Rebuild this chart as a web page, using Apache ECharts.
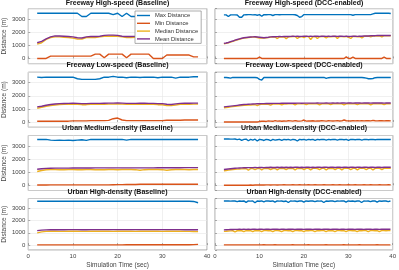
<!DOCTYPE html>
<html><head><meta charset="utf-8">
<script src="https://cdn.jsdelivr.net/npm/echarts@6/dist/echarts.min.js"></script>
<style>html,body{margin:0;padding:0;background:#fff}#c{width:399px;height:270px}</style>
</head><body><div id="c"></div>
<script>
// ---------- data ----------
const seriesNames = ['Max Distance','Min Distance','Median Distance','Mean Distance'];
const panelTitles = [
 'Freeway High-speed (Baseline)','Freeway High-speed (DCC-enabled)',
 'Freeway Low-speed (Baseline)','Freeway Low-speed (DCC-enabled)',
 'Urban Medium-density (Baseline)','Urban Medium-density (DCC-enabled)',
 'Urban High-density (Baseline)','Urban High-density (DCC-enabled)'];
const xTicks = [0,10,20,30,40];
const yTicks = [0,1000,2000,3000];
// baseline time: 2..38 s, 1 s step
const tBase = [2,3,4,5,6,7,8,9,10,11,12,13,14,15,16,17,18,19,20,21,22,23,24,25,26,27,28,29,30,31,32,33,34,35,36,37,38];
// DCC time: 2..39.5 s, 0.5 s step
const tDcc = [2,2.5,3,3.5,4,4.5,5,5.5,6,6.5,7,7.5,8,8.5,9,9.5,10,10.5,11,11.5,12,12.5,13,13.5,14,14.5,15,15.5,16,16.5,17,17.5,18,18.5,19,19.5,20,20.5,21,21.5,22,22.5,23,23.5,24,24.5,25,25.5,26,26.5,27,27.5,28,28.5,29,29.5,30,30.5,31,31.5,32,32.5,33,33.5,34,34.5,35,35.5,36,36.5,37,37.5,38,38.5,39,39.5];

// Freeway High-speed baseline
const fhsB_max = [3450,3450,3450,3450,3450,3450,3450,3450,3450,3450, 3200,3200,3450,3450,3450,3450,3450,3350,3450,3200, 3450,3200,3200,3450,3450,3450,3450,3450,3450,3300, 3450,3450,3450,3450,3450,3450,3450];
const fhsB_min = [0,0,0,180,180,180,180,180,180,180, 180,180,180,330,330,60,330,330,330,330, 60,330,330,330,330,330,0,0,0,260, 260,260,260,260,260,120,120];
const fhsB_med = [1100,1200,1450,1600,1650,1650,1620,1600,1550,1480, 1480,1600,1620,1600,1650,1700,1700,1720,1700,1650, 1600,1600,1620,1650,1650,1600,1620,1650,1650,1600, 1620,1650,1650,1650,1600,1620,1650];
const fhsB_mean = [1200,1300,1500,1650,1720,1720,1700,1680,1650,1580, 1560,1650,1680,1680,1700,1760,1780,1780,1760,1700, 1680,1680,1690,1700,1700,1680,1690,1700,1700,1680, 1690,1700,1700,1700,1680,1690,1700];
// Freeway Low-speed baseline
const flsB_max = [3420,3400,3420,3420,3420,3420,3420,3420,3420,3300, 3250,3250,3250,3250,3300,3420,3420,3480,3420,3420, 3380,3420,3420,3400,3420,3420,3420,3380,3420,3420, 3420,3350,3420,3420,3420,3450,3450];
const flsB_min = [50,50,50,50,50,50,60,60,80,80, 80,80,100,100,100,100,120,250,300,150, 100,100,100,100,100,100,100,100,100,130, 130,130,130,150,150,150,150];
const flsB_med = [1050,1120,1200,1260,1300,1330,1340,1350,1350,1340, 1320,1320,1340,1340,1340,1350,1360,1360,1370,1360, 1340,1340,1340,1350,1350,1340,1340,1320,1310,1260, 1250,1300,1340,1350,1350,1360,1360];
const flsB_mean = [1150,1200,1280,1330,1370,1400,1410,1420,1430,1420, 1400,1400,1420,1420,1420,1430,1440,1440,1450,1440, 1420,1420,1420,1430,1430,1420,1420,1400,1400,1350, 1330,1380,1420,1430,1430,1440,1440];
// Urban Medium-density baseline
const umdB_max = [3500,3500,3500,3450,3430,3450,3430,3450,3420,3450, 3480,3430,3500,3500,3500,3500,3500,3500,3500,3500, 3450,3500,3500,3500,3500,3500,3500,3500,3500,3500, 3500,3500,3500,3500,3500,3500,3500];
const umdB_min = [20,20,20,30,30,30,30,30,30,30, 30,30,30,30,30,30,30,40,50,50, 60,60,60,80,80,80,80,80,80,80, 80,80,80,80,80,80,80];
const umdB_med = [1050,1130,1180,1200,1200,1190,1180,1200,1200,1190, 1180,1200,1200,1190,1180,1180,1200,1200,1190,1200, 1200,1200,1190,1150,1190,1200,1200,1200,1190,1150, 1180,1200,1200,1200,1190,1200,1200];
const umdB_mean = [1220,1260,1290,1300,1310,1310,1310,1310,1320,1320, 1320,1320,1320,1330,1330,1330,1330,1330,1330,1330, 1330,1330,1330,1330,1330,1330,1330,1340,1340,1340, 1340,1340,1340,1350,1350,1350,1350];
// Urban High-density baseline
const uhdB_max = [3580,3580,3580,3570,3580,3580,3580,3570,3580,3580, 3580,3580,3570,3580,3580,3580,3580,3580,3570,3580, 3580,3580,3580,3580,3570,3580,3580,3580,3580,3580, 3580,3570,3580,3580,3580,3560,3450];
const uhdB_min = [20,20,20,20,20,20,20,20,20,20, 20,20,20,20,20,20,20,20,20,20, 30,30,30,30,30,30,30,30,30,30, 30,30,30,30,30,40,60];
const uhdB_med = [1000,1080,1120,1130,1130,1120,1120,1130,1130,1130, 1120,1120,1130,1130,1130,1130,1130,1120,1130,1130, 1130,1130,1120,1130,1130,1130,1130,1130,1120,1130, 1130,1130,1130,1120,1120,1110,1100];
const uhdB_mean = [1180,1220,1240,1250,1250,1250,1250,1260,1260,1260, 1250,1250,1260,1260,1260,1260,1260,1260,1260,1260, 1260,1260,1260,1260,1260,1260,1260,1260,1260,1260, 1260,1260,1260,1250,1250,1250,1250];

// Freeway High-speed DCC
const fhsD_max = [3330,3330,3200,3330,3330,3330,3320,3150,3150,3330, 3340,3350,3350,3330,3350,3300,3350,3220,3350,3340, 3350,3350,3280,3350,3350,3340,3350,3350,3350,3350, 3350,3350,3340,3280,3150,3200,3350,3350,3350,3350, 3350,3350,3350,3350,3350,3350,3350,3350,3350,3350, 3350,3350,3350,3350,3350,3350,3350,3350,3300,3350, 3350,3350,3350,3350,3350,3350,3350,3400,3450,3450, 3450,3450,3450,3450,3450,3430];
const fhsD_min = [0,0,0,0,0,0,0,0,0,0, 0,0,0,0,0,0,100,0,0,0, 0,0,0,0,0,0,0,0,0,0, 0,0,0,0,0,0,0,0,0,0, 0,0,0,0,0,0,0,0,0,0, 0,0,0,0,0,120,0,0,100,0, 0,0,0,0,0,0,0,0,0,0, 0,0,100,0,0,0];
const fhsD_med = [1120,1150,1200,1250,1300,1370,1420,1470,1510,1550, 1570,1600,1620,1630,1640,1600,1550,1560,1560,1580, 1600,1630,1640,1640,1520,1650,1640,1660,1500,1650, 1660,1680,1670,1520,1650,1670,1600,1680,1670,1450, 1660,1680,1520,1660,1680,1670,1560,1680,1650,1680, 1690,1520,1680,1670,1650,1680,1620,1530,1680,1680, 1660,1680,1560,1690,1700,1700,1650,1710,1720,1720, 1730,1640,1740,1730,1740,1730];
const fhsD_mean = [1150,1180,1220,1280,1330,1400,1450,1500,1540,1580, 1600,1620,1640,1650,1660,1640,1620,1600,1580,1600, 1620,1650,1660,1660,1670,1680,1670,1680,1690,1680, 1690,1700,1690,1700,1680,1690,1700,1700,1690,1700, 1690,1700,1700,1690,1700,1700,1690,1700,1690,1700, 1700,1690,1700,1700,1690,1700,1680,1690,1700,1700, 1690,1700,1700,1710,1720,1720,1730,1740,1740,1750, 1750,1750,1760,1750,1760,1750];
// Freeway Low-speed DCC
const flsD_max = [3400,3400,3380,3350,3400,3400,3400,3400,3400,3400, 3400,3400,3400,3400,3400,3380,3250,3200,3400,3400, 3400,3400,3400,3400,3400,3400,3400,3400,3400,3400, 3400,3400,3400,3400,3400,3400,3400,3400,3400,3400, 3400,3400,3400,3400,3400,3400,3330,3380,3400,3400, 3400,3400,3400,3400,3400,3400,3400,3400,3400,3400, 3400,3400,3400,3380,3350,3300,3300,3320,3380,3400, 3400,3400,3400,3400,3400,3400];
const flsD_min = [0,0,0,0,0,0,0,0,0,0, 0,0,0,0,0,0,30,50,60,40, 80,60,50,100,60,80,50,70,60,90, 80,60,100,70,60,80,150,60,80,70, 90,60,80,70,100,80,60,90,80,70, 80,100,70,80,150,90,80,70,100,80, 90,80,100,80,90,100,80,120,90,80, 100,90,80,100,90,80];
const flsD_med = [1080,1100,1120,1150,1170,1190,1210,1230,1250,1270, 1280,1290,1300,1310,1320,1250,1330,1340,1340,1350, 1350,1280,1360,1360,1370,1370,1300,1370,1370,1380, 1380,1380,1310,1380,1380,1380,1390,1320,1380,1390, 1390,1380,1390,1310,1390,1390,1380,1390,1320,1390, 1390,1390,1380,1390,1300,1390,1390,1380,1390,1390, 1320,1390,1390,1380,1390,1390,1310,1390,1390,1380, 1390,1390,1320,1390,1390,1380];
const flsD_mean = [1150,1170,1190,1210,1230,1250,1270,1290,1310,1330, 1340,1350,1360,1370,1380,1390,1390,1400,1400,1410, 1410,1410,1420,1420,1420,1420,1430,1430,1430,1430, 1430,1440,1430,1440,1440,1430,1440,1440,1440,1440, 1440,1440,1450,1440,1440,1440,1450,1440,1440,1450, 1440,1450,1440,1450,1450,1440,1450,1450,1440,1450, 1450,1450,1440,1450,1450,1450,1440,1450,1450,1450, 1450,1450,1440,1450,1450,1450];
// Urban Medium-density DCC
const umdD_max = [3530,3530,3530,3520,3520,3530,3480,3520,3430,3500, 3520,3400,3500,3450,3520,3380,3500,3480,3420,3500, 3480,3400,3500,3450,3480,3500,3420,3500,3480,3500, 3450,3500,3480,3380,3500,3480,3500,3450,3500,3480, 3500,3430,3500,3480,3500,3500,3450,3500,3480,3500, 3500,3450,3500,3500,3480,3500,3430,3500,3500,3480, 3500,3500,3450,3500,3500,3480,3500,3500,3480,3500, 3500,3500,3500,3490,3500,3500];
const umdD_min = [0,0,0,0,0,0,0,0,0,0, 0,0,20,0,20,30,20,30,20,30, 30,20,30,30,20,30,30,40,30,30, 30,40,30,30,40,30,30,30,40,30, 30,40,30,30,30,40,30,30,30,40, 30,30,40,30,30,30,40,30,30,40, 30,30,30,40,30,30,40,30,30,30, 40,30,30,30,40,30];
const umdD_med = [1100,1130,1160,1180,1200,1220,1230,1240,1250,1260, 1260,1150,1270,1270,1200,1270,1280,1180,1280,1270, 1280,1200,1280,1280,1170,1280,1290,1280,1200,1290, 1280,1290,1180,1290,1280,1290,1200,1290,1290,1180, 1290,1290,1280,1200,1290,1290,1180,1290,1280,1290, 1200,1290,1290,1180,1290,1290,1290,1200,1290,1290, 1180,1290,1290,1290,1200,1290,1290,1180,1290,1290, 1290,1200,1290,1290,1290,1290];
const umdD_mean = [1200,1220,1240,1260,1280,1300,1310,1320,1330,1340, 1340,1350,1350,1350,1360,1350,1360,1360,1350,1360, 1360,1370,1360,1360,1370,1360,1370,1360,1370,1360, 1370,1360,1370,1370,1360,1370,1360,1370,1370,1360, 1370,1360,1370,1370,1360,1370,1370,1360,1370,1370, 1360,1370,1370,1360,1370,1370,1360,1370,1370,1360, 1370,1370,1360,1370,1370,1360,1370,1370,1360,1370, 1370,1360,1370,1370,1370,1370];
// Urban High-density DCC
const uhdD_max = [3600,3600,3600,3590,3600,3600,3550,3600,3580,3600, 3480,3600,3590,3600,3450,3600,3580,3600,3520,3600, 3600,3580,3600,3500,3600,3590,3600,3560,3600,3470, 3600,3590,3600,3560,3600,3600,3500,3600,3580,3600, 3600,3550,3600,3590,3600,3470,3600,3580,3600,3600, 3550,3600,3590,3600,3600,3500,3600,3580,3600,3560, 3600,3600,3470,3600,3590,3600,3550,3600,3600,3500, 3600,3580,3600,3600,3550,3600];
const uhdD_min = [20,20,20,20,20,20,20,20,20,20, 20,20,20,20,20,20,20,20,30,20, 20,20,20,30,20,20,20,20,20,20, 20,30,20,20,20,20,20,20,30,20, 20,20,20,20,20,20,30,20,20,20, 20,20,20,20,30,20,20,20,20,20, 20,30,20,20,20,20,20,20,20,30, 20,20,20,20,20,20];
const uhdD_med = [1120,1130,1150,1160,1170,1080,1170,1180,1170,1100, 1180,1170,1180,1090,1180,1170,1180,1100,1180,1180, 1170,1180,1090,1180,1180,1170,1100,1180,1180,1170, 1180,1090,1180,1180,1170,1180,1100,1180,1170,1180, 1180,1090,1180,1170,1180,1180,1100,1180,1170,1180, 1090,1180,1180,1170,1180,1100,1180,1180,1170,1180, 1090,1180,1170,1180,1180,1100,1180,1180,1170,1180, 1090,1180,1180,1170,1180,1180];
const uhdD_mean = [1240,1250,1260,1270,1270,1280,1280,1290,1280,1290, 1280,1300,1280,1290,1290,1280,1300,1290,1280,1290, 1300,1280,1290,1290,1300,1280,1290,1290,1280,1300, 1290,1290,1280,1300,1290,1290,1280,1290,1300,1290, 1280,1290,1300,1290,1280,1290,1290,1300,1280,1290, 1290,1300,1280,1290,1290,1280,1300,1290,1290,1280, 1290,1300,1290,1280,1290,1290,1300,1280,1290,1290, 1280,1290,1300,1290,1290,1290];

// ---------- layout ----------
const colors = ['#0072BD','#D95319','#EDB120','#7E2F8E'];
const panels = [
 {t:tBase, d:[fhsB_max,fhsB_min,fhsB_med,fhsB_mean]},
 {t:tDcc,  d:[fhsD_max,fhsD_min,fhsD_med,fhsD_mean]},
 {t:tBase, d:[flsB_max,flsB_min,flsB_med,flsB_mean]},
 {t:tDcc,  d:[flsD_max,flsD_min,flsD_med,flsD_mean]},
 {t:tBase, d:[umdB_max,umdB_min,umdB_med,umdB_mean]},
 {t:tDcc,  d:[umdD_max,umdD_min,umdD_med,umdD_mean]},
 {t:tBase, d:[uhdB_max,uhdB_min,uhdB_med,uhdB_mean]},
 {t:tDcc,  d:[uhdD_max,uhdD_min,uhdD_med,uhdD_mean]}
];
const colLeft = [28, 215], colW = [179, 178];
const rowTop = [8.7, 72.2, 135.5, 198.5], rowH = 55;
const titleY = [0, 62, 124.5, 188.5];
const FONT = 'Liberation Sans';

const grids=[], xAxes=[], yAxes=[], series=[], titles=[];
panels.forEach((p,i)=>{
  const r = Math.floor(i/2), c = i%2;
  grids.push({left:colLeft[c], top:rowTop[r], width:colW[c], height:rowH, show:true,
    borderColor:'#8a8a8a', borderWidth:0.8, backgroundColor:'#fff'});
  titles.push({text:panelTitles[i], left:colLeft[c]+colW[c]/2, top:titleY[r], textAlign:'center', padding:0,
    textStyle:{fontFamily:FONT, fontSize:7, fontWeight:'bold', color:'#111'}});
  const bottom = r===3;
  xAxes.push({gridIndex:i, type:'value', min:0, max:40, interval:10,
    axisLine:{show:false}, axisTick:{show:true, inside:true, length:2, lineStyle:{color:'#777', width:0.6}},
    axisLabel:{show:bottom, fontFamily:FONT, fontSize:6, color:'#444', margin:3,
      formatter:v=>xTicks.includes(v)?String(v):''},
    splitLine:{show:true, lineStyle:{color:'#e6e6e6', width:0.6}},
    name: bottom?'Simulation Time (sec)':'', nameLocation:'middle', nameGap:12,
    nameTextStyle:{fontFamily:FONT, fontSize:6.5, color:'#444'}});
  yAxes.push({gridIndex:i, type:'value', min:-400, max:3800, splitNumber:4,
    axisLine:{show:false}, axisTick:{show:true, inside:true, length:2, lineStyle:{color:'#777', width:0.6}},
    axisLabel:{show:c===0, fontFamily:FONT, fontSize:6, color:'#444', margin:3, showMinLabel:false, showMaxLabel:false,
      formatter:v=>yTicks.includes(v)?String(v):''},
    splitLine:{show:true, lineStyle:{color:'#e6e6e6', width:0.6}},
    name: c===0?'Distance (m)':'', nameLocation:'middle', nameGap:17,
    nameTextStyle:{fontFamily:FONT, fontSize:6.5, color:'#444'}});
  p.d.forEach((arr,k)=>{
    series.push({type:'line', name:seriesNames[k], xAxisIndex:i, yAxisIndex:i,
      data:p.t.map((t,j)=>[t,arr[j]]), showSymbol:false, symbol:'none',
      lineStyle:{color:colors[k], width:1.4}, itemStyle:{color:colors[k]}, z:2+k*0.1, animation:false});
  });
});

const chart = echarts.init(document.getElementById('c'), null, {renderer:'canvas'});
chart.setOption({
  animation:false,
  title:titles, grid:grids, xAxis:xAxes, yAxis:yAxes, series:series,
  legend:{data:seriesNames, orient:'vertical', left:135, top:11, icon:'rect', itemWidth:13, itemHeight:1.4, itemGap:0.8,
    padding:[1,3,1,2], backgroundColor:'#fff', borderColor:'#8a8a8a', borderWidth:0.7,
    textStyle:{fontFamily:FONT, fontSize:5.8, color:'#333', lineHeight:7}, selectedMode:false}
});
</script></body></html>
